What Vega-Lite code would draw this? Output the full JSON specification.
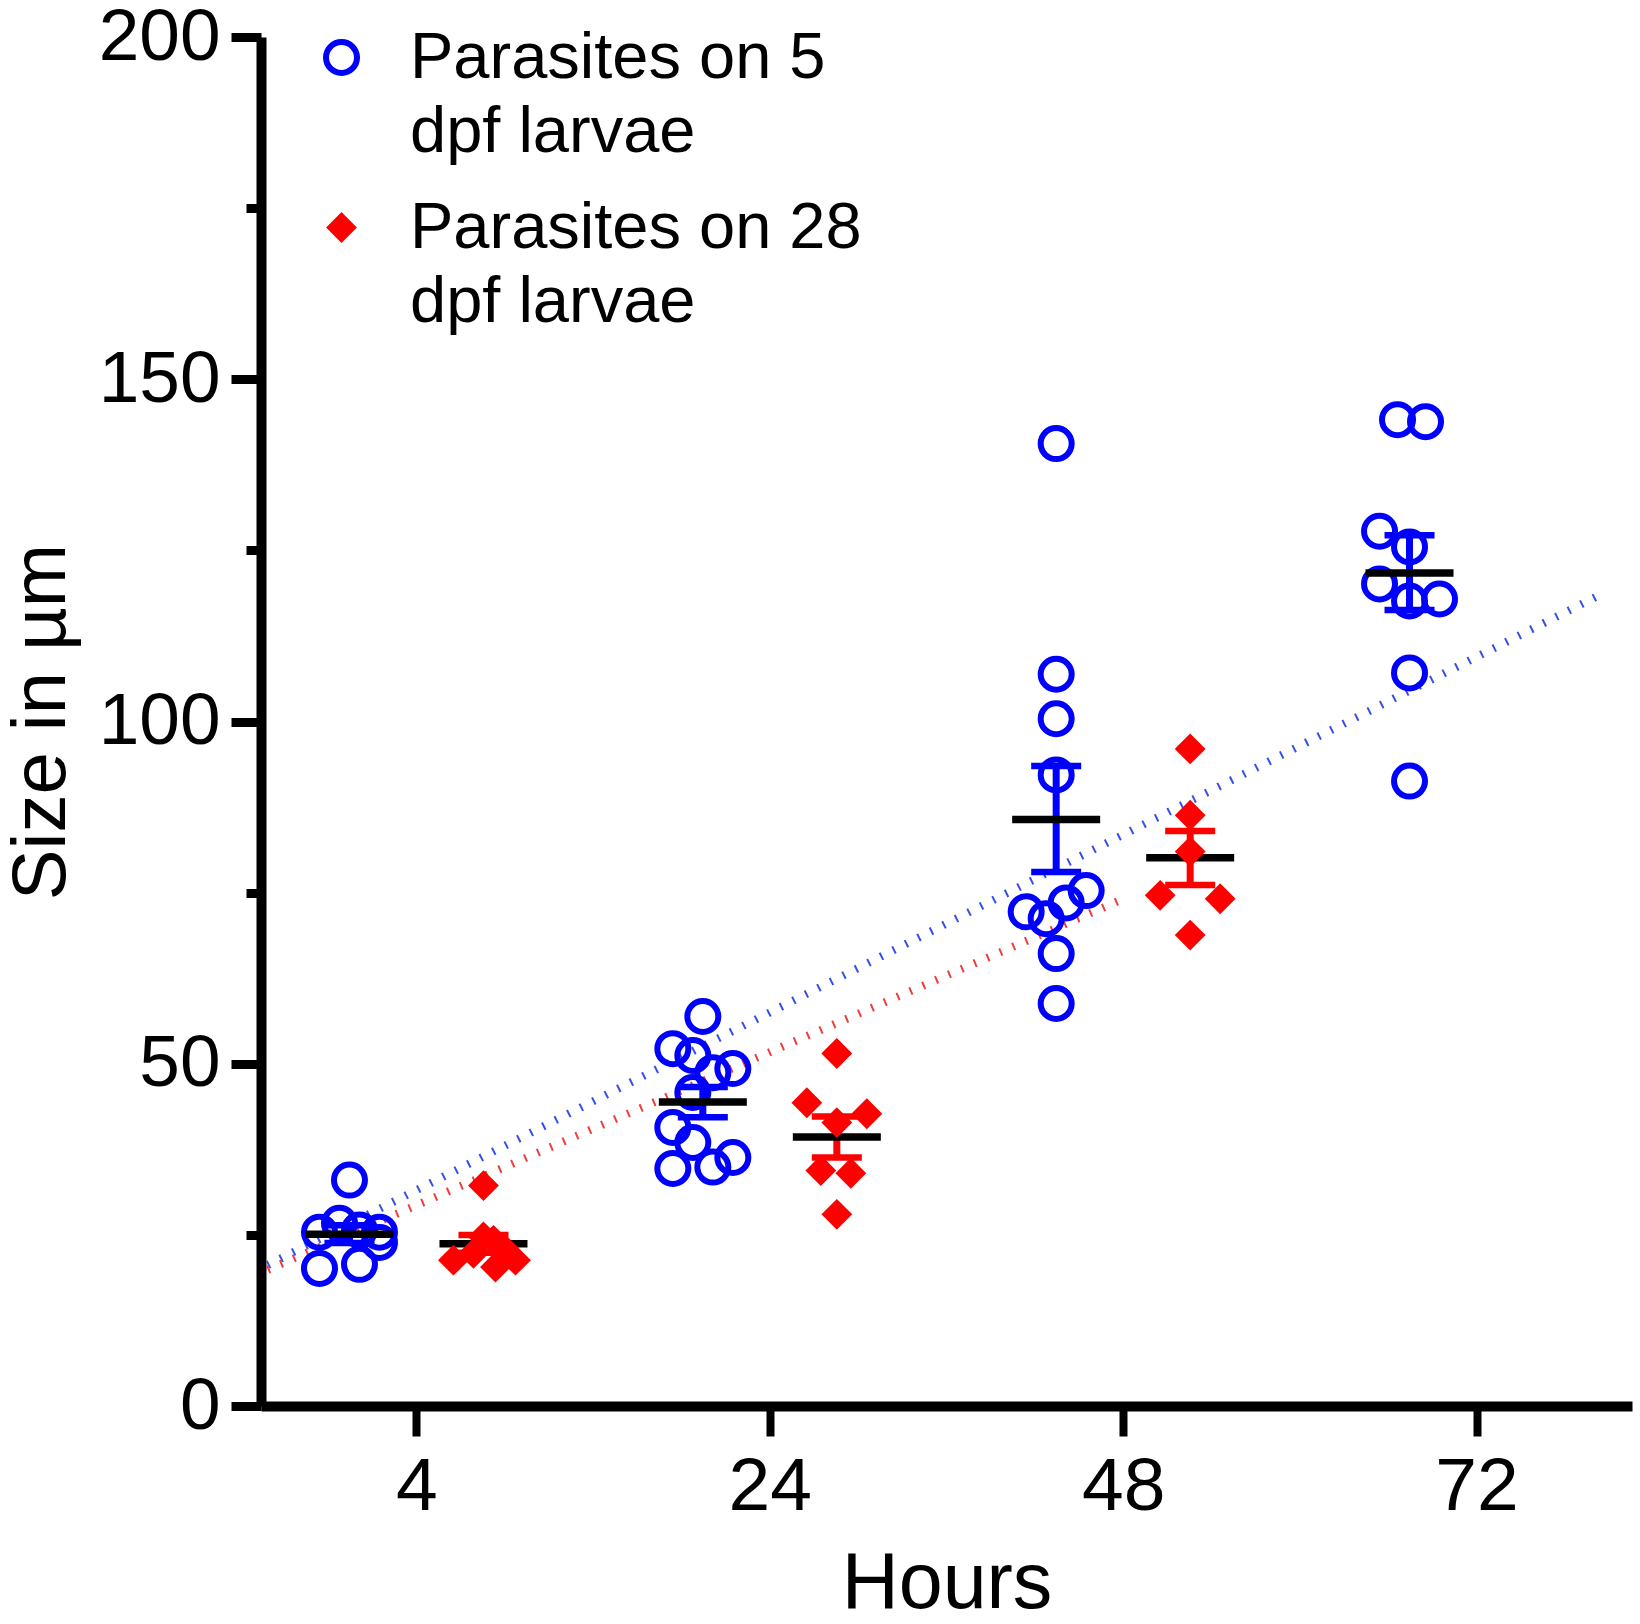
{
  "$schema": "https://vega.github.io/schema/vega-lite/v6.json",
  "autosize": {"type": "none"},
  "padding": {"left": 261, "top": 37, "right": 8, "bottom": 218},
  "width": 1371,
  "height": 1369,
  "background": "white",
  "config": {
    "view": {"stroke": null},
    "font": "Liberation Sans",
    "style": {"guide-label": {"lineHeight": 74}}
  },
  "datasets": {
    "points": [
      {"t": 0, "group": "Parasites on 5 dpf larvae", "size": 33.0, "sw": 0},
      {"t": 0, "group": "Parasites on 5 dpf larvae", "size": 25.4, "sw": -3},
      {"t": 0, "group": "Parasites on 5 dpf larvae", "size": 26.7, "sw": -1},
      {"t": 0, "group": "Parasites on 5 dpf larvae", "size": 25.7, "sw": 1},
      {"t": 0, "group": "Parasites on 5 dpf larvae", "size": 25.4, "sw": 3},
      {"t": 0, "group": "Parasites on 5 dpf larvae", "size": 23.9, "sw": 3},
      {"t": 0, "group": "Parasites on 5 dpf larvae", "size": 20.1, "sw": -3},
      {"t": 0, "group": "Parasites on 5 dpf larvae", "size": 20.7, "sw": 1},
      {"t": 1, "group": "Parasites on 5 dpf larvae", "size": 56.9, "sw": 0},
      {"t": 1, "group": "Parasites on 5 dpf larvae", "size": 52.2, "sw": -3},
      {"t": 1, "group": "Parasites on 5 dpf larvae", "size": 51.2, "sw": -1},
      {"t": 1, "group": "Parasites on 5 dpf larvae", "size": 48.7, "sw": 1},
      {"t": 1, "group": "Parasites on 5 dpf larvae", "size": 49.3, "sw": 3},
      {"t": 1, "group": "Parasites on 5 dpf larvae", "size": 45.8, "sw": -1},
      {"t": 1, "group": "Parasites on 5 dpf larvae", "size": 40.7, "sw": -3},
      {"t": 1, "group": "Parasites on 5 dpf larvae", "size": 38.5, "sw": -1},
      {"t": 1, "group": "Parasites on 5 dpf larvae", "size": 34.7, "sw": -3},
      {"t": 1, "group": "Parasites on 5 dpf larvae", "size": 34.9, "sw": 1},
      {"t": 1, "group": "Parasites on 5 dpf larvae", "size": 36.3, "sw": 3},
      {"t": 2, "group": "Parasites on 5 dpf larvae", "size": 140.6, "sw": 0},
      {"t": 2, "group": "Parasites on 5 dpf larvae", "size": 106.9, "sw": 0},
      {"t": 2, "group": "Parasites on 5 dpf larvae", "size": 100.4, "sw": 0},
      {"t": 2, "group": "Parasites on 5 dpf larvae", "size": 92.2, "sw": 0},
      {"t": 2, "group": "Parasites on 5 dpf larvae", "size": 72.2, "sw": -3},
      {"t": 2, "group": "Parasites on 5 dpf larvae", "size": 71.2, "sw": -1},
      {"t": 2, "group": "Parasites on 5 dpf larvae", "size": 73.5, "sw": 1},
      {"t": 2, "group": "Parasites on 5 dpf larvae", "size": 75.3, "sw": 3},
      {"t": 2, "group": "Parasites on 5 dpf larvae", "size": 66.1, "sw": 0},
      {"t": 2, "group": "Parasites on 5 dpf larvae", "size": 58.8, "sw": 0},
      {"t": 3, "group": "Parasites on 5 dpf larvae", "size": 144.1, "sw": -1.2},
      {"t": 3, "group": "Parasites on 5 dpf larvae", "size": 143.8, "sw": 1.6},
      {"t": 3, "group": "Parasites on 5 dpf larvae", "size": 127.8, "sw": -3},
      {"t": 3, "group": "Parasites on 5 dpf larvae", "size": 125.5, "sw": 0},
      {"t": 3, "group": "Parasites on 5 dpf larvae", "size": 120.1, "sw": -3},
      {"t": 3, "group": "Parasites on 5 dpf larvae", "size": 117.6, "sw": 0},
      {"t": 3, "group": "Parasites on 5 dpf larvae", "size": 117.9, "sw": 3},
      {"t": 3, "group": "Parasites on 5 dpf larvae", "size": 107.1, "sw": 0},
      {"t": 3, "group": "Parasites on 5 dpf larvae", "size": 91.3, "sw": 0},
      {"t": 0, "group": "Parasites on 28 dpf larvae", "size": 32.2, "sw": 0},
      {"t": 0, "group": "Parasites on 28 dpf larvae", "size": 24.7, "sw": 0},
      {"t": 0, "group": "Parasites on 28 dpf larvae", "size": 24.2, "sw": 1},
      {"t": 0, "group": "Parasites on 28 dpf larvae", "size": 21.3, "sw": -3},
      {"t": 0, "group": "Parasites on 28 dpf larvae", "size": 22.3, "sw": -1},
      {"t": 0, "group": "Parasites on 28 dpf larvae", "size": 20.3, "sw": 1.2},
      {"t": 0, "group": "Parasites on 28 dpf larvae", "size": 21.3, "sw": 3.2},
      {"t": 0, "group": "Parasites on 28 dpf larvae", "size": 23.2, "sw": 1.9},
      {"t": 1, "group": "Parasites on 28 dpf larvae", "size": 51.5, "sw": 0},
      {"t": 1, "group": "Parasites on 28 dpf larvae", "size": 44.3, "sw": -3},
      {"t": 1, "group": "Parasites on 28 dpf larvae", "size": 42.7, "sw": 3},
      {"t": 1, "group": "Parasites on 28 dpf larvae", "size": 41.4, "sw": 0},
      {"t": 1, "group": "Parasites on 28 dpf larvae", "size": 34.4, "sw": -1.6},
      {"t": 1, "group": "Parasites on 28 dpf larvae", "size": 34.0, "sw": 1.4},
      {"t": 1, "group": "Parasites on 28 dpf larvae", "size": 28.0, "sw": 0},
      {"t": 2, "group": "Parasites on 28 dpf larvae", "size": 96.0, "sw": 0},
      {"t": 2, "group": "Parasites on 28 dpf larvae", "size": 86.3, "sw": 0},
      {"t": 2, "group": "Parasites on 28 dpf larvae", "size": 81.0, "sw": 0},
      {"t": 2, "group": "Parasites on 28 dpf larvae", "size": 74.6, "sw": -3},
      {"t": 2, "group": "Parasites on 28 dpf larvae", "size": 74.1, "sw": 3},
      {"t": 2, "group": "Parasites on 28 dpf larvae", "size": 68.8, "sw": 0}
    ],
    "summary": [
      {"t": 0, "group": "Parasites on 5 dpf larvae", "mean": 25.1, "lo": 23.8, "hi": 26.4},
      {"t": 1, "group": "Parasites on 5 dpf larvae", "mean": 44.4, "lo": 42.2, "hi": 46.6},
      {"t": 2, "group": "Parasites on 5 dpf larvae", "mean": 85.7, "lo": 78.0, "hi": 93.5},
      {"t": 3, "group": "Parasites on 5 dpf larvae", "mean": 121.7, "lo": 116.3, "hi": 127.2},
      {"t": 0, "group": "Parasites on 28 dpf larvae", "mean": 23.7, "lo": 22.4, "hi": 25.0},
      {"t": 1, "group": "Parasites on 28 dpf larvae", "mean": 39.3, "lo": 36.3, "hi": 42.3},
      {"t": 2, "group": "Parasites on 28 dpf larvae", "mean": 80.1, "lo": 76.1, "hi": 84.0}
    ],
    "fits": [
      {"t": -0.421, "group": "Parasites on 5 dpf larvae", "size": 20.6},
      {"t": 3.357, "group": "Parasites on 5 dpf larvae", "size": 118.7},
      {"t": -0.421, "group": "Parasites on 28 dpf larvae", "size": 19.9},
      {"t": 2.001, "group": "Parasites on 28 dpf larvae", "size": 74.1}
    ]
  },
  "encoding": {
    "x": {
      "field": "t",
      "type": "quantitative",
      "scale": {"domain": [-0.44, 3.44], "nice": false, "zero": false},
      "axis": {
        "title": "Hours",
        "titleFontSize": 79,
        "titleFontWeight": "normal",
        "titleColor": "black",
        "titlePadding": 21,
        "values": [0, 1, 2, 3],
        "labelExpr": "['4', '24', '48', '72'][datum.value]",
        "labelFontSize": 75,
        "labelColor": "black",
        "labelPadding": 14,
        "labelFlush": false,
        "labelOverlap": false,
        "tickSize": 30,
        "tickWidth": 8,
        "tickColor": "black",
        "domainWidth": 10,
        "domainColor": "black",
        "grid": false
      }
    },
    "y": {
      "field": "size",
      "type": "quantitative",
      "scale": {"domain": [0, 200], "nice": false},
      "axis": {
        "title": "Size in µm",
        "titleFontSize": 76,
        "titleFontWeight": "normal",
        "titleColor": "black",
        "titlePadding": 18,
        "values": [0, 25, 50, 75, 100, 125, 150, 175, 200],
        "labelExpr": "datum.value % 50 === 0 ? datum.label : ''",
        "labelFontSize": 73,
        "labelColor": "black",
        "labelPadding": 11,
        "labelFlush": false,
        "labelOverlap": false,
        "tickSize": {"condition": {"test": "datum.value % 50 === 0", "value": 30}, "value": 15},
        "tickWidth": 9,
        "tickColor": "black",
        "domainWidth": 10,
        "domainColor": "black",
        "grid": false
      }
    }
  },
  "layer": [
    {
      "data": {"name": "fits"},
      "transform": [{"filter": "datum.group == 'Parasites on 5 dpf larvae'"}],
      "mark": {"type": "line", "color": "#3550ea", "strokeWidth": 8, "strokeDash": [2, 12], "strokeCap": "butt"}
    },
    {
      "data": {"name": "fits"},
      "transform": [{"filter": "datum.group == 'Parasites on 28 dpf larvae'"}],
      "mark": {"type": "line", "color": "#f03c3c", "strokeWidth": 8, "strokeDash": [2, 12], "strokeCap": "butt"}
    },
    {
      "data": {"name": "summary"},
      "transform": [{"filter": "datum.group == 'Parasites on 28 dpf larvae'"}],
      "mark": {"type": "rule", "color": "#ff0000", "strokeWidth": 7, "strokeCap": "butt", "xOffset": 67},
      "encoding": {
        "y": {"field": "lo", "type": "quantitative"},
        "y2": {"field": "hi"}
      }
    },
    {
      "data": {"name": "summary"},
      "transform": [{"filter": "datum.group == 'Parasites on 28 dpf larvae'"}],
      "mark": {"type": "tick", "orient": "horizontal", "color": "#ff0000", "size": 50, "thickness": 6.5, "opacity": 1, "xOffset": 67},
      "encoding": {
        "y": {"field": "lo", "type": "quantitative"}
      }
    },
    {
      "data": {"name": "summary"},
      "transform": [{"filter": "datum.group == 'Parasites on 28 dpf larvae'"}],
      "mark": {"type": "tick", "orient": "horizontal", "color": "#ff0000", "size": 50, "thickness": 6.5, "opacity": 1, "xOffset": 67},
      "encoding": {
        "y": {"field": "hi", "type": "quantitative"}
      }
    },
    {
      "data": {"name": "summary"},
      "transform": [{"filter": "datum.group == 'Parasites on 28 dpf larvae'"}],
      "mark": {"type": "tick", "orient": "horizontal", "color": "black", "size": 88, "thickness": 7.5, "opacity": 1, "xOffset": 67},
      "encoding": {
        "y": {"field": "mean", "type": "quantitative"}
      }
    },
    {
      "data": {"name": "points"},
      "mark": {
        "type": "point",
        "opacity": 1,
        "strokeWidth": 6,
        "xOffset": {"expr": "datum.group == 'Parasites on 5 dpf larvae' ? datum.sw * 10 - 67 : datum.sw * 10 + 67"}
      },
      "encoding": {
        "shape": {
          "field": "group",
          "type": "ordinal",
          "scale": {"domain": ["Parasites on 5 dpf larvae", "Parasites on 28 dpf larvae"], "range": ["circle", "diamond"]},
          "legend": {
            "title": null,
            "orient": "none",
            "legendX": 48,
            "legendY": -12,
            "padding": 0,
            "labelFontSize": 65,
            "labelColor": "black",
            "labelOffset": 36,
            "labelLimit": 1000,
            "rowPadding": 30,
            "symbolStrokeWidth": 6,
            "labelExpr": "[replace(datum.label, ' dpf larvae', ''), 'dpf larvae']"
          }
        },
        "stroke": {
          "field": "group",
          "type": "ordinal",
          "scale": {"domain": ["Parasites on 5 dpf larvae", "Parasites on 28 dpf larvae"], "range": ["#0000ff", "#ff0000"]}
        },
        "fill": {
          "field": "group",
          "type": "ordinal",
          "scale": {"domain": ["Parasites on 5 dpf larvae", "Parasites on 28 dpf larvae"], "range": ["transparent", "#ff0000"]}
        },
        "size": {
          "field": "group",
          "type": "ordinal",
          "scale": {"domain": ["Parasites on 5 dpf larvae", "Parasites on 28 dpf larvae"], "range": [961, 500]}
        }
      }
    },
    {
      "data": {"name": "summary"},
      "transform": [{"filter": "datum.group == 'Parasites on 5 dpf larvae'"}],
      "mark": {"type": "rule", "color": "#0000ff", "strokeWidth": 7, "strokeCap": "butt", "xOffset": -67},
      "encoding": {
        "y": {"field": "lo", "type": "quantitative"},
        "y2": {"field": "hi"}
      }
    },
    {
      "data": {"name": "summary"},
      "transform": [{"filter": "datum.group == 'Parasites on 5 dpf larvae'"}],
      "mark": {"type": "tick", "orient": "horizontal", "color": "#0000ff", "size": 50, "thickness": 6.5, "opacity": 1, "xOffset": -67},
      "encoding": {
        "y": {"field": "lo", "type": "quantitative"}
      }
    },
    {
      "data": {"name": "summary"},
      "transform": [{"filter": "datum.group == 'Parasites on 5 dpf larvae'"}],
      "mark": {"type": "tick", "orient": "horizontal", "color": "#0000ff", "size": 50, "thickness": 6.5, "opacity": 1, "xOffset": -67},
      "encoding": {
        "y": {"field": "hi", "type": "quantitative"}
      }
    },
    {
      "data": {"name": "summary"},
      "transform": [{"filter": "datum.group == 'Parasites on 5 dpf larvae'"}],
      "mark": {"type": "tick", "orient": "horizontal", "color": "black", "size": 88, "thickness": 7.5, "opacity": 1, "xOffset": -67},
      "encoding": {
        "y": {"field": "mean", "type": "quantitative"}
      }
    }
  ]
}
